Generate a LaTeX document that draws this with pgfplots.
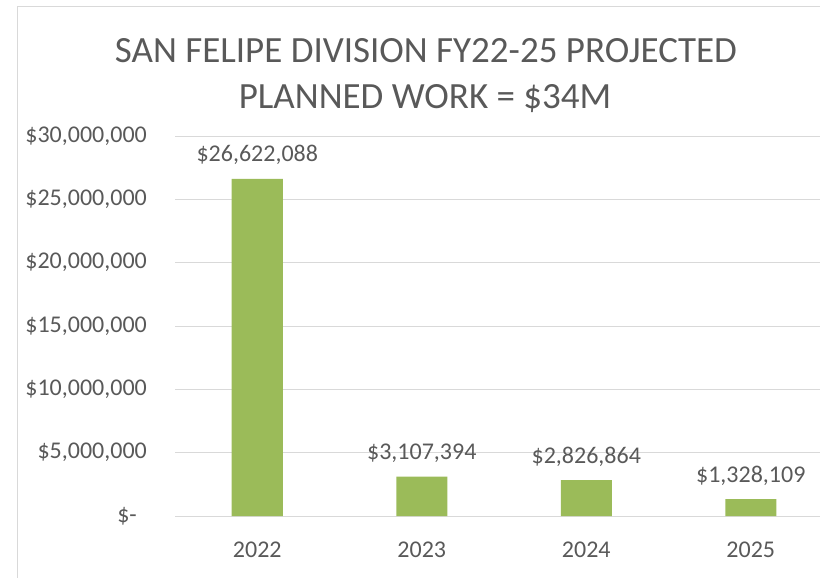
\documentclass[border=0pt]{standalone}
\usepackage{pgfplots}
\usepackage{pgfplotstable}
\pgfplotsset{compat=1.18}
\usepackage{fontspec}
\setmainfont{Carlito}
\definecolor{txt}{HTML}{595959}
\definecolor{gridc}{HTML}{D9D9D9}
\definecolor{barc}{HTML}{9BBB59}
\pgfplotstableread{
x y label
0 26622088 {\$26,622,088}
1 3107394 {\$3,107,394}
2 2826864 {\$2,826,864}
3 1328109 {\$1,328,109}
}\data
\begin{document}
\begin{tikzpicture}[x=1pt,y=1pt]
\path[use as bounding box] (0,0) rectangle (820,-578);
\clip (0,0) rectangle (820,-578);
\draw[gridc, line width=1pt] (17,-578) -- (17,-7) -- (830,-7);
\node[anchor=base, text=txt, font=\fontsize{37}{44}\selectfont] at (426,-63) {SAN FELIPE DIVISION FY22-25 PROJECTED};
\node[anchor=base, text=txt, font=\fontsize{37}{44}\selectfont] at (425,-108) {PLANNED WORK = \$34M};
\begin{axis}[
  at={(175pt,-516pt)}, anchor=south west,
  scale only axis, width=658pt, height=380pt,
  xmin=-0.5, xmax=3.5, ymin=0, ymax=30000000,
  axis line style={draw=none},
  major tick length=0pt,
  ymajorgrids, grid style={gridc, line width=1pt},
  ytick={0,5000000,10000000,15000000,20000000,25000000,30000000},
  yticklabels={{\$-\rule{10pt}{0pt}},{\$5,000,000},{\$10,000,000},{\$15,000,000},{\$20,000,000},{\$25,000,000},{\$30,000,000}},
  yticklabel style={anchor=east, inner sep=0pt, xshift=-28pt, text=txt, font=\fontsize{24}{28}\selectfont},
  xtick={0,1,2,3},
  xticklabels={2022,2023,2024,2025},
  xticklabel style={anchor=base, inner sep=0pt, yshift=-41pt, text=txt, font=\fontsize{24}{28}\selectfont},
  scaled y ticks=false,
  clip=false,
]
\addplot[ybar, bar width=51pt, fill=barc, draw=none,
  nodes near coords, point meta=explicit symbolic,
  every node near coord/.append style={anchor=base, inner sep=0pt, yshift=17pt, text=txt, font=\fontsize{24}{28}\selectfont}]
  table[x=x, y=y, meta=label] {\data};
\end{axis}
\end{tikzpicture}
\end{document}
